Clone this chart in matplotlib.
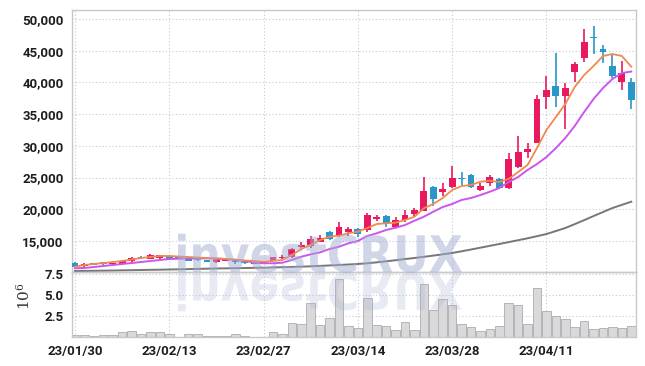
import matplotlib
matplotlib.use("Agg")
import matplotlib.pyplot as plt
import matplotlib.transforms as mtransforms
from matplotlib.font_manager import FontProperties
from matplotlib.patches import PathPatch
from matplotlib.textpath import TextPath
from matplotlib.ticker import FuncFormatter
import numpy as np

# x-axis labels, one every 10 trading days starting at the first candle
TICK_LABELS = ["23/01/30", "23/02/13", "23/02/27", "23/03/14", "23/03/28", "23/04/11"]
TICK_STEP = 10

OPEN = [11580, 11050, 11530, 11690, 11300, 11330, 11900, 12480, 12210, 12270,
        12590, 12560, 12270, 12210, 11950, 11740, 11900, 12000, 11900, 11420,
        11370, 11850, 12320, 12480, 14100, 14160, 14900, 16370, 15740, 16470,
        16900, 16700, 18420, 18950, 17160, 18260, 19210, 19780, 23470, 22780,
        23570, 24980, 25410, 23040, 24100, 24730, 23310, 26620, 28990, 30500,
        37750, 39440, 37910, 41600, 43900, 47160, 45270, 42590, 40020, 40020]
HIGH = [11650, 11550, 11600, 11750, 11550, 12060, 12480, 12600, 12950, 12850,
        12650, 12600, 12350, 12400, 12050, 12200, 12300, 12100, 12000, 11850,
        11900, 12550, 12750, 13900, 14890, 15840, 15950, 16580, 17950, 17210,
        17000, 19370, 19150, 19100, 18740, 19890, 20160, 25140, 23700, 24100,
        26830, 25880, 25600, 24190, 25410, 24900, 28830, 31550, 30400, 38020,
        41060, 44590, 39960, 43270, 48420, 48940, 45900, 44430, 43380, 40750]
LOW = [10900, 10950, 11200, 11280, 11250, 11220, 11740, 12250, 12110, 12200,
       12100, 12100, 11850, 11800, 11650, 11600, 11800, 11380, 11330, 11350,
       11300, 11800, 12160, 12400, 13690, 13950, 14800, 15110, 15630, 15840,
       15630, 16400, 18150, 17260, 17000, 18040, 18940, 19700, 20520, 22100,
       23300, 23830, 23300, 22880, 23670, 23200, 23200, 26500, 28040, 30400,
       35760, 36080, 32660, 40120, 43170, 44480, 43020, 40650, 38810, 35810]
CLOSE = [10950, 11420, 11270, 11330, 11480, 11850, 12370, 12320, 12840, 12740,
         12160, 12160, 11900, 12000, 11740, 12110, 12100, 11640, 11530, 11740,
         11800, 12480, 12530, 13790, 14370, 15320, 15520, 15320, 17200, 16850,
         16150, 19100, 18840, 17790, 18310, 19100, 19890, 22880, 21670, 23200,
         24940, 24780, 23570, 23670, 25040, 23310, 27930, 29080, 29460, 37390,
         38810, 37910, 39120, 42860, 46370, 46950, 44750, 41060, 41440, 37230]

MA_SHORT = [10950, 11220, 11380, 11530, 11690, 11850, 12080, 12320, 12480, 12640,
            12640, 12560, 12480, 12400, 12320, 12240, 12160, 12080, 11930, 11850,
            11740, 11850, 12010, 12800, 13740, 14370, 15160, 15680, 15840, 16220,
            16470, 17050, 17680, 17790, 17890, 18310, 18830, 20160, 20840, 21780,
            23040, 23670, 23830, 24350, 24510, 24300, 24780, 25880, 26980, 29660,
            32500, 34550, 36600, 39280, 41170, 42590, 44170, 44480, 44170, 42480]
MA_MID = [10700, 10750, 10900, 11060, 11220, 11380, 11530, 11690, 11850, 12010,
          12160, 12210, 12240, 12270, 12270, 12240, 12160, 12010, 11850, 11610,
          11490, 11490, 11580, 12010, 12530, 12900, 13220, 13740, 14100, 14640,
          15000, 15790, 16220, 16740, 17100, 17520, 18200, 18830, 19620, 20360,
          20840, 21470, 21780, 22250, 22770, 23360, 24300, 25090, 26200, 27140,
          28240, 29660, 31240, 33130, 35340, 37390, 39120, 40540, 41490, 41720]
MA_LONG = [10270, 10290, 10310, 10330, 10350, 10380, 10400, 10430, 10460, 10480,
           10510, 10540, 10570, 10600, 10640, 10670, 10690, 10720, 10740, 10770,
           10790, 10830, 10870, 10910, 10960, 11010, 11080, 11150, 11220, 11300,
           11380, 11490, 11640, 11800, 11970, 12160, 12320, 12510, 12700, 12900,
           13110, 13380, 13660, 13950, 14240, 14530, 14830, 15130, 15430, 15760,
           16100, 16570, 17050, 17660, 18290, 18940, 19570, 20200, 20700, 21200]

# volume in millions of shares
VOLUME = [0.24, 0.20, 0.08, 0.24, 0.24, 0.56, 0.71, 0.32, 0.56, 0.56,
          0.32, 0.04, 0.32, 0.32, 0.10, 0.10, 0.10, 0.32, 0.16, 0.05,
          0.05, 0.60, 0.36, 1.72, 1.56, 4.00, 1.40, 2.22, 6.95, 1.27,
          1.03, 4.60, 1.43, 1.27, 0.83, 1.75, 0.83, 6.28, 3.20, 4.50,
          3.80, 1.50, 1.15, 0.71, 0.91, 1.27, 4.00, 3.80, 1.50, 5.80,
          3.10, 2.46, 2.10, 1.15, 1.87, 0.91, 1.03, 1.15, 1.03, 1.27]

UP_COLOR = "#e8195f"
DOWN_COLOR = "#2b96c9"
GRID_COLOR = "#c3c9dc"
SPINE_COLOR = "#c8c8c8"
TEXT_COLOR = "#1e1e1e"

plt.rcParams["font.family"] = ["Roboto", "DejaVu Sans"]
plt.rcParams["mathtext.fontset"] = "dejavuserif"

W, H = 645, 366
fig = plt.figure(figsize=(W / 100, H / 100), dpi=100)
ax_p = fig.add_axes([72 / W, 1 - 272 / H, 564 / W, 262.5 / H])
ax_v = fig.add_axes([72 / W, 1 - 337 / H, 564 / W, 65 / H], sharex=ax_p)

x = np.arange(len(OPEN))
o = np.array(OPEN, dtype=float)
c = np.array(CLOSE, dtype=float)
colors = [UP_COLOR if cc >= oo else DOWN_COLOR for oo, cc in zip(o, c)]

for ax in (ax_p, ax_v):
    ax.set_facecolor("none")
    ax.grid(True, color=GRID_COLOR, linestyle=(0, (1, 2)), linewidth=0.8)
    ax.set_axisbelow(True)
    ax.tick_params(length=0, labelsize=9.5, labelcolor=TEXT_COLOR, pad=6)
    for side in ax.spines.values():
        side.set_color(SPINE_COLOR)
        side.set_linewidth(1.0)

# candles
ax_p.vlines(x, LOW, HIGH, colors=colors, linewidth=1.2, zorder=2)
body_h = np.maximum(np.abs(c - o), 180)
ax_p.bar(x, body_h, bottom=np.minimum(o, c) - (body_h - np.abs(c - o)) / 2,
         width=0.72, color=colors, linewidth=0, zorder=3)

ax_p.plot(x, MA_LONG, color="#777777", lw=1.4, zorder=4)
ax_p.plot(x, MA_MID, color="#cc55ee", lw=1.4, zorder=4)
ax_p.plot(x, MA_SHORT, color="#f0894f", lw=1.3, zorder=4)

ax_p.set_ylim(10115, 51500)
ax_p.set_yticks(range(15000, 50001, 5000))
ax_p.set_yticklabels([f"{v:,}" for v in range(15000, 50001, 5000)])
ax_p.set_xlim(-0.32, 59.5)
ax_p.set_xticks(x[::TICK_STEP])
ax_p.tick_params(labelbottom=False)

# volume
ax_v.bar(x, VOLUME, width=0.9, color="#d9d9db", edgecolor="#b5b5b8", linewidth=0.7, zorder=2)
ax_v.set_ylim(0, 7.74)
ax_v.set_yticks([2.5, 5.0, 7.5])
ax_v.set_yticklabels(["2.5", "5.0", "7.5"])
ax_v.set_xticklabels(TICK_LABELS)
ax_v.set_ylabel(r"$10^{6}$", fontsize=11, color="#333333")
ax_v.yaxis.set_label_coords(-0.069, 0.63)

for lab in ax_p.get_yticklabels() + ax_v.get_yticklabels() + ax_v.get_xticklabels():
    lab.set_fontweight("bold")

# watermark with its mirror image
tp = TextPath((0, 0), "investCRUX", size=1,
              prop=FontProperties(family="DejaVu Sans", weight="bold"))
ext = tp.get_extents()
sx = 284 / ext.width
sy = 39 / ext.height
to_fig = mtransforms.Affine2D().scale(1 / 100) + fig.dpi_scale_trans
main_tr = mtransforms.Affine2D().translate(-ext.x0, 0).scale(sx, sy).translate(178, H - 272) + to_fig
mirror_tr = mtransforms.Affine2D().translate(-ext.x0, 0).scale(sx, -sy).translate(178, H - 273) + to_fig
fig.patches.append(PathPatch(tp, transform=main_tr, facecolor="#a3afd0",
                             edgecolor="none", alpha=0.5, zorder=5))
fig.patches.append(PathPatch(tp, transform=mirror_tr, facecolor="#a3afd0",
                             edgecolor="none", alpha=0.25, zorder=5))

fig.savefig("out.png", dpi=100)
